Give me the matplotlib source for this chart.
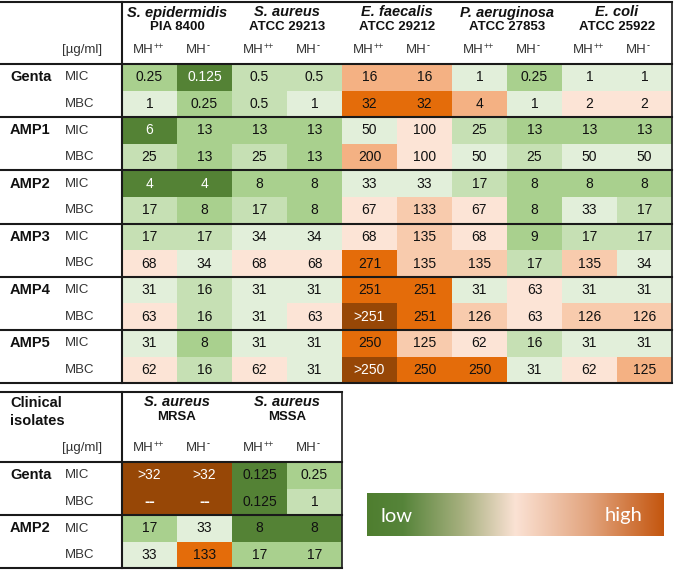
import numpy as np
import matplotlib
matplotlib.use("Agg")
import matplotlib.pyplot as plt
from matplotlib.colors import ListedColormap, BoundaryNorm, LinearSegmentedColormap

plt.rcParams['font.family'] = ['Liberation Sans', 'DejaVu Sans']

# ---- data ----
species = ["S. epidermidis", "S. aureus", "E. faecalis", "P. aeruginosa", "E. coli"]
strains = ["PIA 8400", "ATCC 29213", "ATCC 29212", "ATCC 27853", "ATCC 25922"]
media_sup = ["++", "-"]
drugs = ["Genta", "AMP1", "AMP2", "AMP3", "AMP4", "AMP5"]
tests = ["MIC", "MBC"]

values = [
    ["0.25", "0.125", "0.5", "0.5", "16", "16", "1", "0.25", "1", "1"],
    ["1", "0.25", "0.5", "1", "32", "32", "4", "1", "2", "2"],
    ["6", "13", "13", "13", "50", "100", "25", "13", "13", "13"],
    ["25", "13", "25", "13", "200", "100", "50", "25", "50", "50"],
    ["4", "4", "8", "8", "33", "33", "17", "8", "8", "8"],
    ["17", "8", "17", "8", "67", "133", "67", "8", "33", "17"],
    ["17", "17", "34", "34", "68", "135", "68", "9", "17", "17"],
    ["68", "34", "68", "68", "271", "135", "135", "17", "135", "34"],
    ["31", "16", "31", "31", "251", "251", "31", "63", "31", "31"],
    ["63", "16", "31", "63", ">251", "251", "126", "63", "126", "126"],
    ["31", "8", "31", "31", "250", "125", "62", "16", "31", "31"],
    ["62", "16", "62", "31", ">250", "250", "250", "31", "62", "125"],
]
# colour class of every cell (0 = lowest / dark green ... 8 = highest / brown)
levels = [
    [1, 0, 2, 2, 6, 6, 3, 1, 3, 3],
    [3, 1, 2, 3, 7, 7, 6, 3, 4, 4],
    [0, 1, 1, 1, 3, 4, 2, 1, 1, 1],
    [2, 1, 2, 1, 6, 4, 3, 2, 3, 3],
    [0, 0, 1, 1, 3, 3, 2, 1, 1, 1],
    [2, 1, 2, 1, 4, 5, 4, 1, 3, 2],
    [2, 2, 3, 3, 4, 5, 4, 1, 2, 2],
    [4, 3, 4, 4, 7, 5, 5, 2, 5, 3],
    [3, 2, 3, 3, 7, 7, 3, 4, 3, 3],
    [4, 2, 3, 4, 8, 7, 5, 4, 5, 5],
    [3, 1, 3, 3, 7, 5, 4, 2, 3, 3],
    [4, 2, 4, 3, 8, 7, 7, 3, 4, 6],
]

clin_species = ["S. aureus", "S. aureus"]
clin_strains = ["MRSA", "MSSA"]
clin_drugs = ["Genta", "AMP2"]
clin_values = [
    [">32", ">32", "0.125", "0.25"],
    ["--", "--", "0.125", "1"],
    ["17", "33", "8", "8"],
    ["33", "133", "17", "17"],
]
clin_levels = [
    [8, 8, 0, 1],
    [8, 8, 0, 2],
    [1, 3, 0, 0],
    [3, 7, 1, 1],
]

palette = ["#548235", "#a9d08e", "#c6e0b4", "#e2efda", "#fce4d6",
           "#f8cbad", "#f4b183", "#e46c0a", "#974706"]
cmap = ListedColormap(palette)
norm = BoundaryNorm(np.arange(-0.5, len(palette) + 0.5, 1), len(palette))

# ---- figure in pixel coordinates ----
fig = plt.figure(figsize=(6.75, 5.7), dpi=100)
ax = fig.add_axes([0, 0, 1, 1])
ax.set_xlim(0, 675)
ax.set_ylim(570, 0)
ax.axis("off")

LINE = "#1a1a1a"
LAB = "#333333"
x0, cw = 122, 55.0
lw_thick = 1.5


def media_label(xc, yc, sup):
    # "MH" with a small superscript, centred on xc
    shift = 4 if sup == "++" else 2
    ax.text(xc + shift, yc, "MH", ha="right", va="center", fontsize=9.5, color=LAB)
    ax.text(xc + shift + 0.5, yc - 4, sup, ha="left", va="center", fontsize=6.5,
            color=LAB, fontweight="bold" if sup == "-" else "normal")


def draw_table(vals, levs, sp, st, dr, y_top, y_head, n_cols, first_label, white_levels):
    n_rows = len(vals)
    rh = 26.6
    xe = x0 + cw * np.arange(n_cols + 1)
    ye = y_head + rh * np.arange(n_rows + 1)
    ax.pcolormesh(xe, ye, np.array(levs), cmap=cmap, norm=norm)
    x_right = xe[-1]
    for r in range(n_rows):
        yc = (ye[r] + ye[r + 1]) / 2
        for c in range(n_cols):
            xc = (xe[c] + xe[c + 1]) / 2
            col = "white" if levs[r][c] in white_levels else "#111111"
            txt = vals[r][c]
            if txt == "--":
                ax.text(xc, yc, txt, ha="center", va="center", fontsize=11.5,
                        color=col, fontweight="bold")
            else:
                ax.text(xc, yc, txt, ha="center", va="center", fontsize=10, color=col)
        ax.text(65, yc, tests[r % 2], ha="left", va="center", fontsize=9.5, color=LAB)
        if r % 2 == 0:
            ax.text(10, yc, dr[r // 2], ha="left", va="center", fontsize=10.5,
                    fontweight="bold", color="#111111")
    # header
    for i in range(len(sp)):
        xc = xe[2 * i + 1]
        ax.text(xc, y_top + 10.5, sp[i], ha="center", va="center", fontsize=10.5,
                fontweight="bold", fontstyle="italic", color="#111111")
        ax.text(xc, y_top + 25.5, st[i], ha="center", va="center", fontsize=9.5,
                fontweight="bold", color="#111111")
        for j in range(2):
            xc2 = (xe[2 * i + j] + xe[2 * i + j + 1]) / 2
            media_label(xc2, y_head - 14, media_sup[j])
    ax.text(62, y_head - 14, "[µg/ml]", ha="left", va="center", fontsize=9.5, color=LAB)
    if first_label:
        ax.text(10, y_top + 20, first_label, ha="left", va="center", fontsize=10.5,
                fontweight="bold", color="#111111", linespacing=1.45)
    # lines
    ax.plot([0, x_right], [y_top, y_top], color=LINE, lw=lw_thick)
    for r in range(0, n_rows + 1, 2):
        ax.plot([0, x_right], [ye[r], ye[r]], color=LINE, lw=lw_thick)
    ax.plot([x0, x0], [y_top, ye[-1]], color=LINE, lw=lw_thick)
    ax.plot([x_right, x_right], [y_top, ye[-1]], color=LINE, lw=1.2)


draw_table(values, levels, species, strains, drugs, 2, 64, 10, None, {0, 8})
draw_table(clin_values, clin_levels, clin_species, clin_strains, clin_drugs,
           392, 462, 4, "Clinical\nisolates", {8})

# ---- low / high colour bar ----
grad = LinearSegmentedColormap.from_list(
    "lowhigh", [(0.0, "#4f7e2f"), (0.12, "#56843a"), (0.32, "#a7b07f"),
                (0.5, "#fbe2d4"), (0.75, "#e2a47e"), (1.0, "#c4560f")])
ax.imshow(np.linspace(0, 1, 256)[None, :], extent=[367, 664, 536, 493],
          aspect="auto", cmap=grad, interpolation="bilinear")
ax.set_xlim(0, 675)
ax.set_ylim(570, 0)
ax.text(380, 516, "low", ha="left", va="center", fontsize=14.5, color="white",
        family="Lato")
ax.text(642, 516, "high", ha="right", va="center", fontsize=14.5, color="white",
        family="Lato")

fig.savefig("out.png", dpi=100)
